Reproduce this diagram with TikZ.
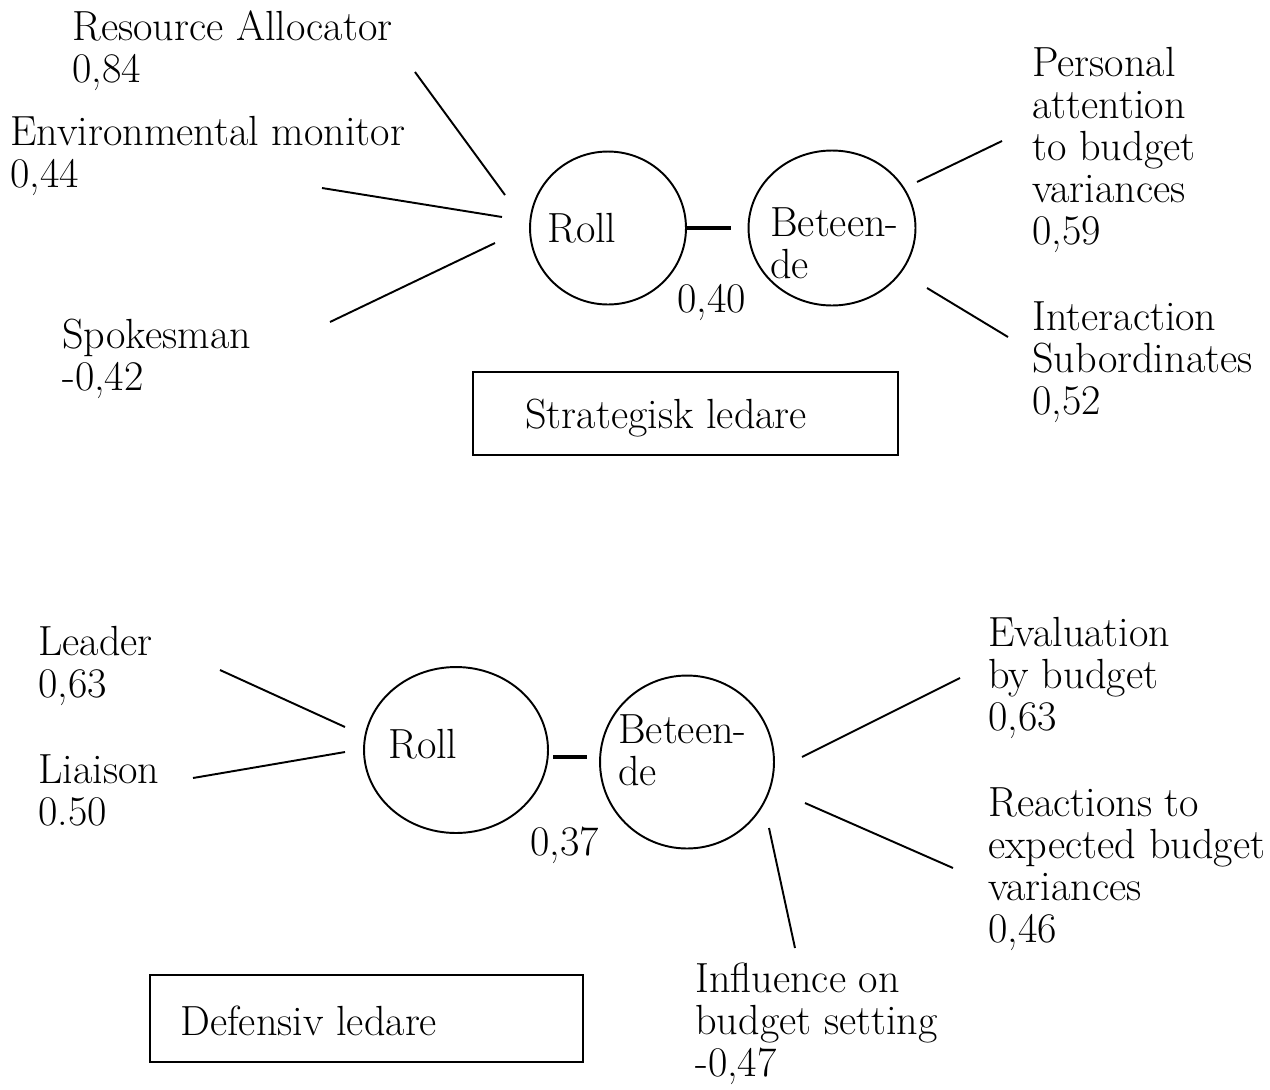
\documentclass[tikz,border=0pt]{standalone}
\usepackage{tikz}
\usetikzlibrary{shapes.geometric}

\tikzset{
	lbl/.style={anchor=base west, align=left, inner sep=0pt, font=\fontsize{24}{23.8}\selectfont},
	oval/.style={draw, ellipse, line width=1.1pt, inner sep=0pt},
	spoke/.style={line width=1.1pt},
	link/.style={line width=2.4pt},
	frame/.style={draw, line width=1.1pt, inner sep=0pt}
}

\begin{document}
\begin{tikzpicture}[x=0.02cm, y=-0.02cm]
	\useasboundingbox (0,0) rectangle (1270,1089);
	
	% Strategisk ledare (base = last line)
	\node[oval, minimum width=3.12cm, minimum height=3.06cm] (roll1) at (608,228) {};
	\node[oval, minimum width=3.34cm, minimum height=3.1cm] (bet1) at (832,228) {};
	\node[lbl] (rolltxt1) at (547,242) {Roll};
	\node[lbl] (bettxt1) at (770,278) {Beteen-\\de};
	\coordinate (l1a) at (686,228);
	\coordinate (l1b) at (731,228);
	\draw[link] (l1a) -- (l1b);
	\node[lbl] (k1) at (677,312) {0,40};
	
	\node[lbl] (ra) at (72,82) {Resource Allocator\\0,84};
	\node[lbl] (em) at (10,187) {Environmental monitor\\0,44};
	\node[lbl] (sp) at (62,390) {Spokesman\\-0,42};
	\node[lbl] (pa) at (1032,244) {Personal\\attention\\to budget\\variances\\0,59};
	\node[lbl] (is) at (1032,414) {Interaction\\Subordinates\\0,52};
	
	\coordinate (ra1) at (415,72);   \coordinate (ra2) at (505,195);
	\coordinate (em1) at (322,188);  \coordinate (em2) at (502,217);
	\coordinate (sp1) at (330,322);  \coordinate (sp2) at (495,243);
	\coordinate (pa1) at (917,182);  \coordinate (pa2) at (1002,141);
	\coordinate (is1) at (927,288);  \coordinate (is2) at (1008,337);
	\draw[spoke] (ra1) -- (ra2);
	\draw[spoke] (em1) -- (em2);
	\draw[spoke] (sp1) -- (sp2);
	\draw[spoke] (pa1) -- (pa2);
	\draw[spoke] (is1) -- (is2);
	
	\node[frame, minimum width=8.5cm, minimum height=1.66cm] (box1) at (685.5,413.5) {};
	\node[lbl] (boxtxt1) at (525,428) {Strategisk ledare};
	
	% Defensiv ledare
	\node[oval, minimum width=3.68cm, minimum height=3.32cm] (roll2) at (456,750) {};
	\node[oval, minimum width=3.48cm, minimum height=3.46cm] (bet2) at (687,762) {};
	\node[lbl] (rolltxt2) at (388,758) {Roll};
	\node[lbl] (bettxt2) at (618,785) {Beteen-\\de};
	\coordinate (l2a) at (553,757);
	\coordinate (l2b) at (587,757);
	\draw[link] (l2a) -- (l2b);
	\node[lbl] (k2) at (530,855) {0,37};
	
	\node[lbl] (le) at (38,697) {Leader\\0,63};
	\node[lbl] (li) at (38,825) {Liaison\\0.50};
	\node[lbl] (ev) at (988,730) {Evaluation\\by budget\\0,63};
	\node[lbl] (re) at (988,942) {Reactions to\\expected budget\\variances\\0,46};
	\node[lbl] (in) at (695,1076) {Influence on\\budget setting\\-0,47};
	
	\coordinate (le1) at (220,670);  \coordinate (le2) at (345,727);
	\coordinate (li1) at (193,778);  \coordinate (li2) at (345,752);
	\coordinate (ev1) at (802,757);  \coordinate (ev2) at (960,678);
	\coordinate (re1) at (805,803);  \coordinate (re2) at (953,868);
	\coordinate (in1) at (769,828);  \coordinate (in2) at (795,948);
	\draw[spoke] (le1) -- (le2);
	\draw[spoke] (li1) -- (li2);
	\draw[spoke] (ev1) -- (ev2);
	\draw[spoke] (re1) -- (re2);
	\draw[spoke] (in1) -- (in2);
	
	\node[frame, minimum width=8.66cm, minimum height=1.74cm] (box2) at (366.5,1018.5) {};
	\node[lbl] (boxtxt2) at (180,1035) {Defensiv ledare};
	
\end{tikzpicture}
\end{document}
